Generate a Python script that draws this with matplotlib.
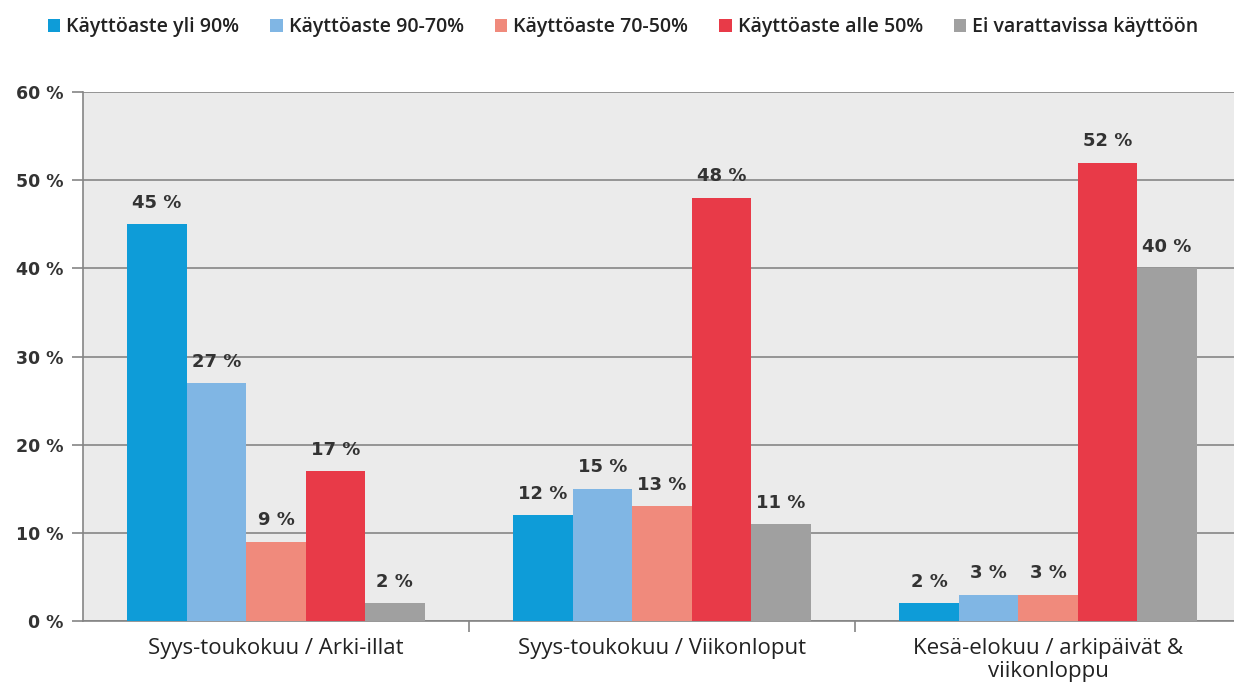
import numpy as np
import matplotlib.pyplot as plt
from matplotlib.patches import Patch

categories = ['Syys-toukokuu / Arki-illat', 'Syys-toukokuu / Viikonloput',
              'Kesä-elokuu / arkipäivät &\nviikonloppu']
series = ['Käyttöaste yli 90%', 'Käyttöaste 90-70%', 'Käyttöaste 70-50%',
          'Käyttöaste alle 50%', 'Ei varattavissa käyttöön']
values = [
    [45, 12, 2],
    [27, 15, 3],
    [9, 13, 3],
    [17, 48, 52],
    [2, 11, 40],
]
colors = ['#0e9cd8', '#80b6e4', '#f08a7c', '#e83a48', '#a0a0a0']
yticks = [0, 10, 20, 30, 40, 50, 60]

fig = plt.figure(figsize=(12.34, 6.87), dpi=100)
ax = fig.add_axes([83 / 1234, 66 / 687, 3 * 386 / 1234, 529 / 687])
ax.set_facecolor('#ebebeb')

x = np.arange(len(categories))
w = 0.154
for i, (name, vals) in enumerate(zip(series, values)):
    pos = x + (i - 2) * w
    ax.bar(pos, vals, width=w, color=colors[i], zorder=3, label=name)
    for px, v in zip(pos, vals):
        ax.text(px, v + 1.4, f'{v} %', ha='center', va='bottom',
                fontsize=13, fontweight='bold', color='#333333',
                family='DejaVu Sans', zorder=4)

ax.set_xlim(-0.5, 2.5)
ax.set_ylim(0, 60)
ax.set_yticks(yticks)
ax.set_yticklabels([f'{t} %' for t in yticks], fontsize=12.5, fontweight='bold',
                   color='#333333', family='DejaVu Sans')
ax.yaxis.grid(True, color='#858585', linewidth=1.2, zorder=1)
ax.tick_params(axis='y', length=8, color='#858585', width=1.2, pad=6)

ax.set_xticks([0.5, 1.5])
ax.set_xticklabels([])
ax.tick_params(axis='x', length=8, color='#858585', width=1.2)
for px, lab in zip(x, categories):
    ax.text(px, -1.9, lab, ha='center', va='top', fontsize=16,
            family='Open Sans', color='#222222', linespacing=1.15)

for s in ['top', 'right']:
    ax.spines[s].set_visible(False)
for s in ['left', 'bottom']:
    ax.spines[s].set_color('#858585')
    ax.spines[s].set_linewidth(1.2)

handles = [Patch(facecolor=c, label=n) for c, n in zip(colors, series)]
fig.legend(handles=handles, loc='upper left', bbox_to_anchor=(30 / 1234, 1.0),
           ncol=5, frameon=False, handlelength=0.65, handleheight=0.65,
           handletextpad=0.3, columnspacing=1.6,
           prop={'family': 'Open Sans', 'size': 14, 'weight': 'semibold'},
           labelcolor='#222222')

fig.savefig('out.png', dpi=100)
